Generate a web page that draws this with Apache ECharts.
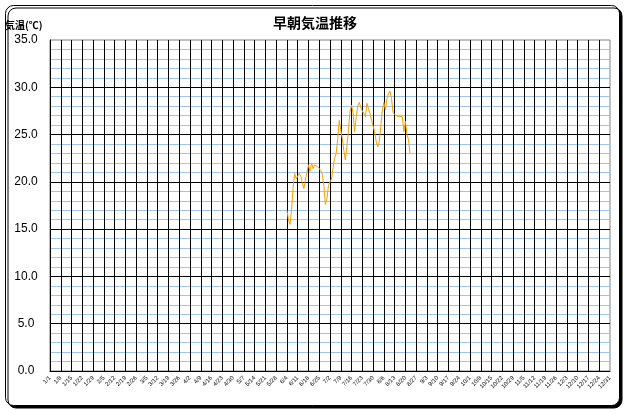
<!DOCTYPE html>
<html>
<head>
<meta charset="utf-8">
<script src="https://cdn.jsdelivr.net/npm/echarts@6/dist/echarts.min.js"></script>
<style>
html,body{margin:0;padding:0;background:#fff;}
#chart{width:628px;height:414px;}
</style>
</head>
<body>
<div id="chart"></div>
<script>
// ---- data ----
const titleText = '早朝気温推移';
const yAxisTitle = '気温(℃)';
const monthLengths = [31, 28, 31, 30, 31, 30, 31, 31, 30, 31, 30, 31];
const dateLabels = [];
monthLengths.forEach((n, m) => { for (let d = 1; d <= n; d++) dateLabels.push((m + 1) + '/' + d); });
const firstDate = '6/4';
const morningTemps = [
  17.0, 16.0, 15.5, 17.0, 19.3, 20.9, 20.3, 20.6, 20.9, 20.6,
  19.9, 19.3, 20.2, 21.0, 21.8, 21.1, 22.0, 21.4, 21.8, 21.7,
  21.6, 21.8, 21.2, 20.8, 19.6, 17.6, 18.2, 19.6, 20.0, 20.3,
  21.5, 22.5, 23.0, 24.5, 26.5, 25.5, 24.6, 23.3, 22.3, 23.8,
  25.5, 27.5, 28.1, 27.3, 25.3, 26.8, 28.0, 28.4, 27.9, 27.5,
  27.2, 26.9, 28.3, 28.2, 27.2, 26.5, 25.9, 25.3, 24.3, 23.7,
  24.2, 25.8, 27.6, 28.4, 27.6, 28.8, 29.3, 29.6, 28.8, 27.3,
  27.5, 27.0, 26.9, 26.9, 26.9, 26.9, 25.3, 26.4, 25.0, 24.5,
  23.0
];
const yMin = 0, yMax = 35, yStep = 5;
const weekStep = 7;

const startIdx = dateLabels.indexOf(firstDate);
const seriesData = morningTemps.map((v, i) => [dateLabels[startIdx + i], v]);

const chart = echarts.init(document.getElementById('chart'), null, {renderer: 'canvas'});
const weekly = (i) => i % weekStep === 0;
chart.setOption({
  animation: false,
  backgroundColor: '#fff',
  graphic: [
    {
      type: 'rect', z: -100, silent: true,
      shape: {x: 5.5, y: 5.5, width: 614, height: 400, r: 8},
      style: {fill: '#fff', stroke: '#000', lineWidth: 1,
        shadowColor: '#000', shadowOffsetX: 2.5, shadowOffsetY: 2.5, shadowBlur: 0}
    },
    {
      type: 'text', left: 5, top: 20, z: 10,
      style: {text: yAxisTitle, fill: '#000', font: 'bold 10px "Noto Sans CJK JP", sans-serif'}
    }
  ],
  title: {
    text: titleText, left: 268, top: 11,
    textStyle: {fontSize: 14, fontWeight: 'bold', color: '#000', fontFamily: '"Noto Sans CJK JP", sans-serif'}
  },
  grid: {left: 50, right: 18, top: 40, bottom: 43, show: true, borderColor: '#808080', borderWidth: 1, backgroundColor: 'transparent'},
  xAxis: {
    type: 'category', data: dateLabels, boundaryGap: false,
    axisLine: {lineStyle: {color: '#000', width: 1}},
    axisTick: {show: false},
    axisLabel: {interval: (i) => weekly(i), rotate: 45, fontSize: 6, color: '#000', margin: 6, fontFamily: 'Arial, sans-serif'},
    splitLine: {show: true, interval: (i) => weekly(i), showMinLine: false, showMaxLine: false, lineStyle: {color: '#000', width: 1}}
  },
  yAxis: {
    type: 'value', min: yMin, max: yMax, interval: yStep,
    axisLine: {show: true, lineStyle: {color: '#000', width: 1}},
    axisTick: {show: false},
    axisLabel: {formatter: (v) => v.toFixed(1), fontSize: 12, color: '#000', align: 'center', margin: 24, fontFamily: 'Arial, sans-serif'},
    splitLine: {show: true, showMaxLine: false, lineStyle: {color: '#000', width: 1}},
    minorTick: {show: false, splitNumber: 5},
    minorSplitLine: {show: true, lineStyle: {color: '#9ec5e8', width: 1}}
  },
  series: [{
    type: 'line', data: seriesData, showSymbol: false, symbol: 'none',
    lineStyle: {color: '#F5A000', width: 1}, z: 5
  }]
});
</script>
</body>
</html>
